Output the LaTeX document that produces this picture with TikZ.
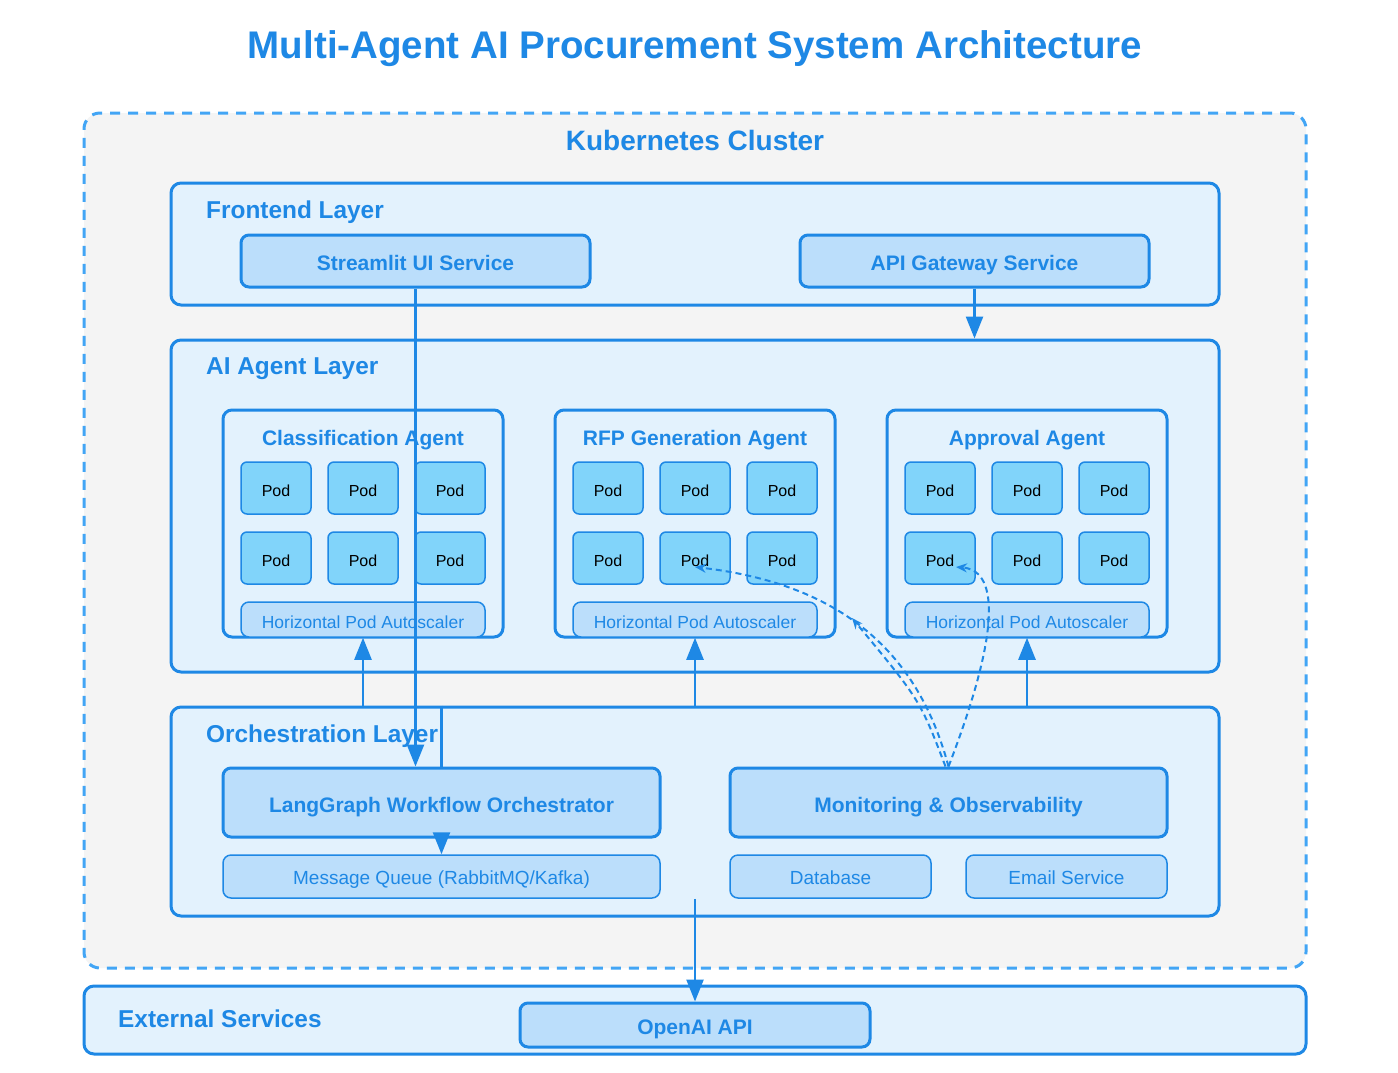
\documentclass[tikz,border=0pt]{standalone}
\usepackage{fontspec}
\setmainfont{Liberation Sans}
\usetikzlibrary{arrows.meta}
\definecolor{pri}{HTML}{1E88E5}
\definecolor{lfill}{HTML}{E3F2FD}
\definecolor{sfill}{HTML}{BBDEFB}
\definecolor{podfill}{HTML}{81D4FA}
\definecolor{kfill}{HTML}{F4F4F4}
\definecolor{kdash}{HTML}{42A5F5}
\begin{document}
\begin{tikzpicture}[x=1pt,y=-1pt,
  layer/.style={draw=pri, line width=3pt, fill=lfill, rounded corners=10pt, inner sep=0pt},
  agentbox/.style={draw=pri, line width=3pt, fill=lfill, rounded corners=9pt, minimum width=280pt, minimum height=227pt, inner sep=0pt},
  svc/.style={draw=pri, line width=3pt, fill=sfill, rounded corners=8pt, inner sep=0pt, text=pri, text height=19pt, text depth=0pt, font=\bfseries\fontsize{21}{25}\selectfont},
  sub/.style={draw=pri, line width=1.5pt, fill=sfill, rounded corners=8pt, inner sep=0pt, text=pri, text height=16.6pt, text depth=0pt, font=\fontsize{19}{23}\selectfont},
  hpa/.style={sub, text height=17.5pt, font=\fontsize{17.5}{21}\selectfont},
  pod/.style={draw=pri, line width=1.5pt, fill=podfill, rounded corners=6pt, minimum width=70pt, minimum height=52pt, inner sep=0pt, text=black, text height=17.5pt, text depth=0pt, font=\fontsize{16}{19}\selectfont},
  lbl/.style={anchor=west, text=pri, inner sep=0pt, font=\bfseries\fontsize{24.4}{29}\selectfont},
  atitle/.style={text=pri, inner sep=0pt, font=\bfseries\fontsize{21}{25}\selectfont},
  arr/.style={draw=pri, line width=2.5pt, -{Triangle[length=22pt,width=17pt]}},
  conn/.style={draw=pri, line width=2.5pt},
  darr/.style={draw=pri, line width=2pt, dash pattern=on 6pt off 4pt, -{Stealth[length=11pt,width=9pt]}},
]
\useasboundingbox (0,0) rectangle (1398,1072);
\fill[white] (0,0) rectangle (1398,1072);

\node[text=pri, font=\bfseries\fontsize{38.5}{46}\selectfont, inner sep=0pt] (title) at (695,49) {Multi-Agent AI Procurement System Architecture};

% Kubernetes cluster
\node[draw=kdash, line width=3pt, dash pattern=on 10pt off 8pt, fill=kfill, rounded corners=16pt, minimum width=1222pt, minimum height=855pt, inner sep=0pt] (k8s) at (695,540.5) {};
\node[text=pri, font=\bfseries\fontsize{28}{33}\selectfont, inner sep=0pt] (k8stitle) at (695,140) {Kubernetes Cluster};

% Frontend layer
\node[layer, minimum width=1048pt, minimum height=122pt] (front) at (695,244) {};
\node[lbl] (frontlbl) at (206,212) {Frontend Layer};
\node[svc, minimum width=349pt, minimum height=52pt] (streamlit) at (415.5,261) {Streamlit UI Service};
\node[svc, minimum width=349pt, minimum height=52pt] (api) at (974.5,261) {API Gateway Service};

% AI agent layer
\node[layer, minimum width=1048pt, minimum height=332pt] (ailayer) at (695,506) {};
\node[lbl] (ailbl) at (206,369) {AI Agent Layer};

\foreach \ax/\nm/\ttl in {363/cls/Classification Agent, 695/rfp/RFP Generation Agent, 1027/apr/Approval Agent}{
  \node[agentbox] (\nm) at (\ax,523.5) {};
  \node[atitle] (\nm-title) at (\ax,440) {\ttl};
  \foreach \i in {1,2,3}{
    \foreach \j in {1,2}{
      \node[pod] (\nm-p\i\j) at ({\ax+(\i-2)*87},{488+(\j-1)*70}) {Pod};
    }
  }
  \node[hpa, minimum width=244pt, minimum height=35pt] (\nm-hpa) at (\ax,619.5) {Horizontal Pod Autoscaler};
}

% Orchestration layer
\node[layer, minimum width=1048pt, minimum height=209pt] (orch) at (695,811.5) {};
\node[lbl] (orchlbl) at (206,736) {Orchestration Layer};
\node[svc, minimum width=437pt, minimum height=69pt] (lang) at (441.5,802.5) {LangGraph Workflow Orchestrator};
\node[svc, minimum width=437pt, minimum height=69pt] (mon) at (948.5,802.5) {Monitoring \& Observability};
\node[sub, minimum width=437pt, minimum height=43pt] (mq) at (441.5,876.5) {Message Queue (RabbitMQ/Kafka)};
\node[sub, minimum width=201pt, minimum height=43pt] (db) at (830.5,876.5) {Database};
\node[sub, minimum width=201pt, minimum height=43pt] (email) at (1066.5,876.5) {Email Service};

% External services
\node[layer, minimum width=1222pt, minimum height=68pt] (ext) at (695,1020) {};
\node[lbl] (extlbl) at (118,1019) {External Services};
\node[svc, minimum width=350pt, minimum height=44pt] (openai) at (695,1025) {OpenAI API};

% Connectors
\draw[arr] (api.south) -- (api.south |- ailayer.north);
\foreach \nm in {cls,rfp,apr}{
  \draw[arr] (orch.north -| \nm-hpa.south) -- (\nm-hpa.south);
}
\draw[conn] (lang.north |- orch.north) -- (lang.north);
\draw[arr] (streamlit.south) -- (streamlit.south |- lang.north);
\draw[arr] (lang.south) -- (mq.north);
\draw[arr] (openai.north |- mq.south) -- (openai.north);

\coordinate (midend) at (852,618);
\draw[darr] (mon.north) .. controls (920,660) and (850,585) .. ([yshift=-9pt]rfp-p22.center);
\draw[darr] ([xshift=-3pt]mon.north) .. controls (920,700) .. (midend);
\draw[darr] (mon.north) .. controls (1005,620) and (995,570) .. ([xshift=16pt,yshift=-9pt]apr-p12.center);
\end{tikzpicture}
\end{document}
